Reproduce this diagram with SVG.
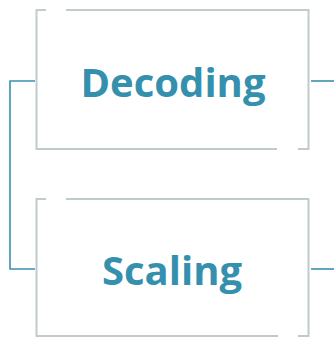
<svg xmlns="http://www.w3.org/2000/svg" width="334" height="337" viewBox="0 0 334 337">
<style>
.box{fill:none;stroke:#c0ccca;stroke-width:2}
.conn{fill:none;stroke:#3a8fae;stroke-width:1.6}
.lbl{font-family:"Open Sans","Liberation Sans",sans-serif;font-weight:700;font-size:40px;fill:#3590ae;text-anchor:middle}
</style>
<rect width="334" height="337" fill="#ffffff"/>
<g id="connectors">
<path class="conn" d="M35,81 H10 V269 H35"/>
<path class="conn" d="M311,81 H334"/>
<path class="conn" d="M311,269 H334"/>
</g>
<g id="decoding">
<path class="box" d="M46,10 H36.5 V149 H277 M298,149 H308.5 V10 H66"/>
<text class="lbl" x="173" y="97">Decoding</text>
</g>
<g id="scaling">
<path class="box" d="M46,199 H36.5 V336 H278 M298,336 H308.5 V199 H66"/>
<text class="lbl" x="172" y="285">Scaling</text>
</g>
</svg>
